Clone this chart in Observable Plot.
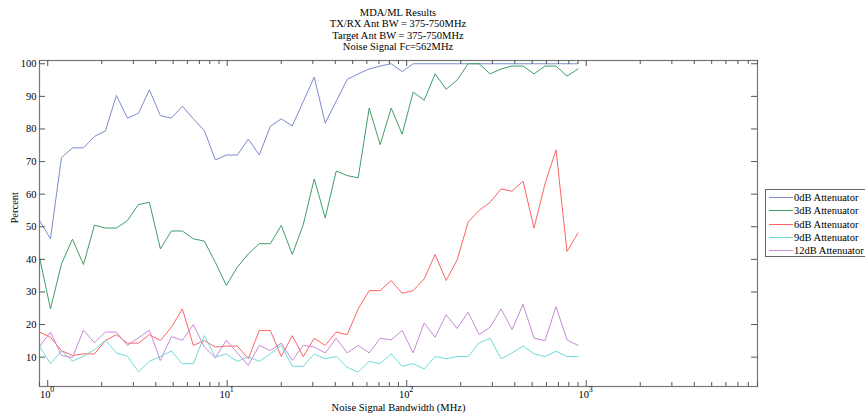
<!DOCTYPE html>
<html><head><meta charset="utf-8">
<script src="https://cdn.jsdelivr.net/npm/d3@7"></script>
<script src="https://cdn.jsdelivr.net/npm/@observablehq/plot@0.6"></script>
<style>
body{margin:0;background:#fff;overflow:hidden}
#wrap{position:relative;width:865px;height:419px;overflow:hidden;font-family:"Liberation Serif","Times New Roman",serif;color:#000}
#title{position:absolute;left:39px;width:718px;top:7px;text-align:center;font-size:10.5px;line-height:11.4px}
#legend{position:absolute;left:765px;top:189px;width:110px;height:68px;border:1px solid #666;background:#fff;font-size:10.5px;padding-top:1px;box-sizing:border-box}
.row{display:flex;align-items:center;height:13.3px;white-space:nowrap}
.sw{width:24px;height:0;border-top:1px solid;margin-left:3px;margin-right:1px}
</style></head>
<body><div id="wrap"><div id="chart"></div><div id="title"></div><div id="legend"></div></div>
<script>
const titleLines = ["MDA/ML Results","TX/RX Ant BW = 375-750MHz","Target Ant BW = 375-750MHz","Noise Signal Fc=562MHz"];
const xLabel = "Noise Signal Bandwidth (MHz)";
const yLabel = "Percent";
const seriesNames = ["0dB Attenuator","3dB Attenuator","6dB Attenuator","9dB Attenuator","12dB Attenuator"];
const seriesColors = ["#7b8bcc","#3f9e68","#ff6464","#6ddada","#c88bd6"];

const bandwidth = [0.9,1.036,1.193,1.374,1.582,1.821,2.097,2.414,2.78,3.201,
  3.685,4.243,4.886,5.626,6.477,7.458,8.587,9.887,11.38,13.11,
  15.09,17.38,20.01,23.04,26.52,30.54,35.16,40.49,46.61,53.67,
  61.8,71.15,81.93,94.33,108.6,125.1,144,165.8,190.9,219.8,
  253.1,291.4,335.5,386.3,444.7,512.1,589.6,678.9,781.6,900];

const att0 = [51.9,46.3,71.2,74.2,74.2,77.7,79.4,90.3,83.3,84.8,
  92.0,84.1,83.3,87.0,83.1,79.5,70.5,72.0,72.0,76.9,
  72.0,80.8,83.1,80.9,88.4,95.9,81.8,88.5,95.2,96.9,
  98.4,99.3,100,97.6,100,100,100,100,100,100,
  100,100,100,100,100,100,100,100,100,100];
const att3 = [40.7,24.8,38.6,46.2,38.4,50.5,49.6,49.6,51.9,56.8,
  57.5,43.2,48.7,48.7,46.3,45.6,39.1,32.0,37.6,41.7,
  44.8,44.8,50.4,41.5,50.6,64.7,52.7,67.1,65.7,65.0,
  86.4,75.2,86.4,78.4,91.3,88.8,96.9,92.2,95.0,100,
  100,96.9,98.4,99.3,99.3,96.9,99.3,99.3,96.2,98.4];
const att6 = [17.7,16.1,12.0,10.5,11.0,11.0,15.1,16.9,14.3,14.3,
  16.9,15.1,19.2,24.8,13.6,15.1,13.1,13.4,13.4,9.5,
  18.2,18.2,10.2,16.6,10.2,15.8,13.6,17.7,16.9,24.8,
  30.4,30.4,33.5,29.6,30.4,34.0,41.5,33.5,39.8,51.4,
  55.0,57.5,61.6,60.9,64.0,49.6,63.2,73.6,42.4,48.1];
const att9 = [13.4,8.0,11.9,8.8,10.3,12.3,15.2,11.3,10.3,5.5,
  8.7,10.2,11.9,8.0,8.0,16.6,10.0,11.0,8.7,10.1,
  8.7,11.0,13.6,7.2,7.2,11.0,9.5,10.2,6.9,5.4,
  8.7,8.0,11.0,7.2,8.0,6.4,10.2,9.5,10.2,10.2,
  14.4,15.8,9.5,11.3,13.4,11.0,10.2,11.8,10.2,10.2];
const att12 = [13.3,17.7,10.5,9.9,18.3,14.4,17.7,17.7,13.6,15.9,
  18.3,9.0,16.3,15.2,20.0,13.1,9.8,15.2,11.3,7.5,
  13.6,12.0,14.3,9.0,13.6,13.1,11.3,15.8,11.3,13.6,
  11.3,15.8,15.3,18.2,11.3,20.5,16.1,23.0,18.8,23.8,
  16.9,19.2,24.8,18.5,26.2,15.8,15.1,25.5,15.3,13.6];

const yTicks = [10,20,30,40,50,60,70,80,90,100];
const xMajor = [1,10,100,1000];
const xBase = "10";
const xExponents = ["0","1","2","3"];
const xMinor = [0.9,2,3,4,5,6,7,8,9,20,30,40,50,60,70,80,90,200,300,400,500,600,700,800,900,2000,3000,4000,5000,6000,7000,8000,9000];

const seriesValues = [att0, att3, att6, att9, att12];
const rows = seriesValues.flatMap((vals, s) => vals.map((v, i) => ({series: seriesNames[s], bw: bandwidth[i], v})));

const W = 865, H = 419, mt = 60, mb = 33, ml = 39, mr = 108;
const ph = H - mt - mb, pw = W - ml - mr;
const tickColor = "#555";

const chart = Plot.plot({
  width: W, height: H, marginTop: mt, marginBottom: mb, marginLeft: ml, marginRight: mr,
  style: {fontFamily: '"Liberation Serif","Times New Roman",serif', fontSize: "10.5px", background: "white", color: "#000"},
  x: {type: "log", domain: [0.9, 9000], axis: null},
  y: {domain: [1, 101], axis: null},
  color: {domain: seriesNames, range: seriesColors},
  marks: [
    Plot.lineY(rows, {x: "bw", y: "v", z: "series", stroke: "series", strokeWidth: 1}),
    Plot.frame({stroke: "#777", strokeWidth: 1.2}),
    Plot.tickX(xMajor, {x: d => d, insetTop: ph - 6, stroke: tickColor}),
    Plot.tickX(xMajor, {x: d => d, insetBottom: ph - 6, stroke: tickColor}),
    Plot.tickX(xMinor, {x: d => d, insetTop: ph - 4, stroke: tickColor}),
    Plot.tickX(xMinor, {x: d => d, insetBottom: ph - 4, stroke: tickColor}),
    Plot.tickY(yTicks, {y: d => d, insetRight: pw - 6, stroke: tickColor}),
    Plot.tickY(yTicks, {y: d => d, insetLeft: pw - 6, stroke: tickColor}),
    Plot.text(yTicks, {y: d => d, text: d => String(d), frameAnchor: "left", dx: -3, textAnchor: "end", fill: "#000"}),
    Plot.text(xMajor, {x: d => d, text: () => xBase, frameAnchor: "bottom", dx: -2.5, dy: 11.5, fill: "#000"}),
    Plot.text(xMajor, {x: d => d, text: (d, i) => xExponents[i], frameAnchor: "bottom", dx: 4.5, dy: 5.5, fontSize: 8, fill: "#000"}),
    Plot.text([xLabel], {text: d => d, frameAnchor: "bottom", dy: 24, fill: "#000"}),
    Plot.text([yLabel], {text: d => d, frameAnchor: "left", dx: -25, rotate: -90, fill: "#000"})
  ]
});
document.getElementById("chart").appendChild(chart);

document.getElementById("title").innerHTML = titleLines.map(t => `<div>${t}</div>`).join("");
document.getElementById("legend").innerHTML = seriesNames.map((n, i) =>
  `<div class="row"><span class="sw" style="border-color:${seriesColors[i]}"></span><span>${n}</span></div>`).join("");
</script>
</body></html>
